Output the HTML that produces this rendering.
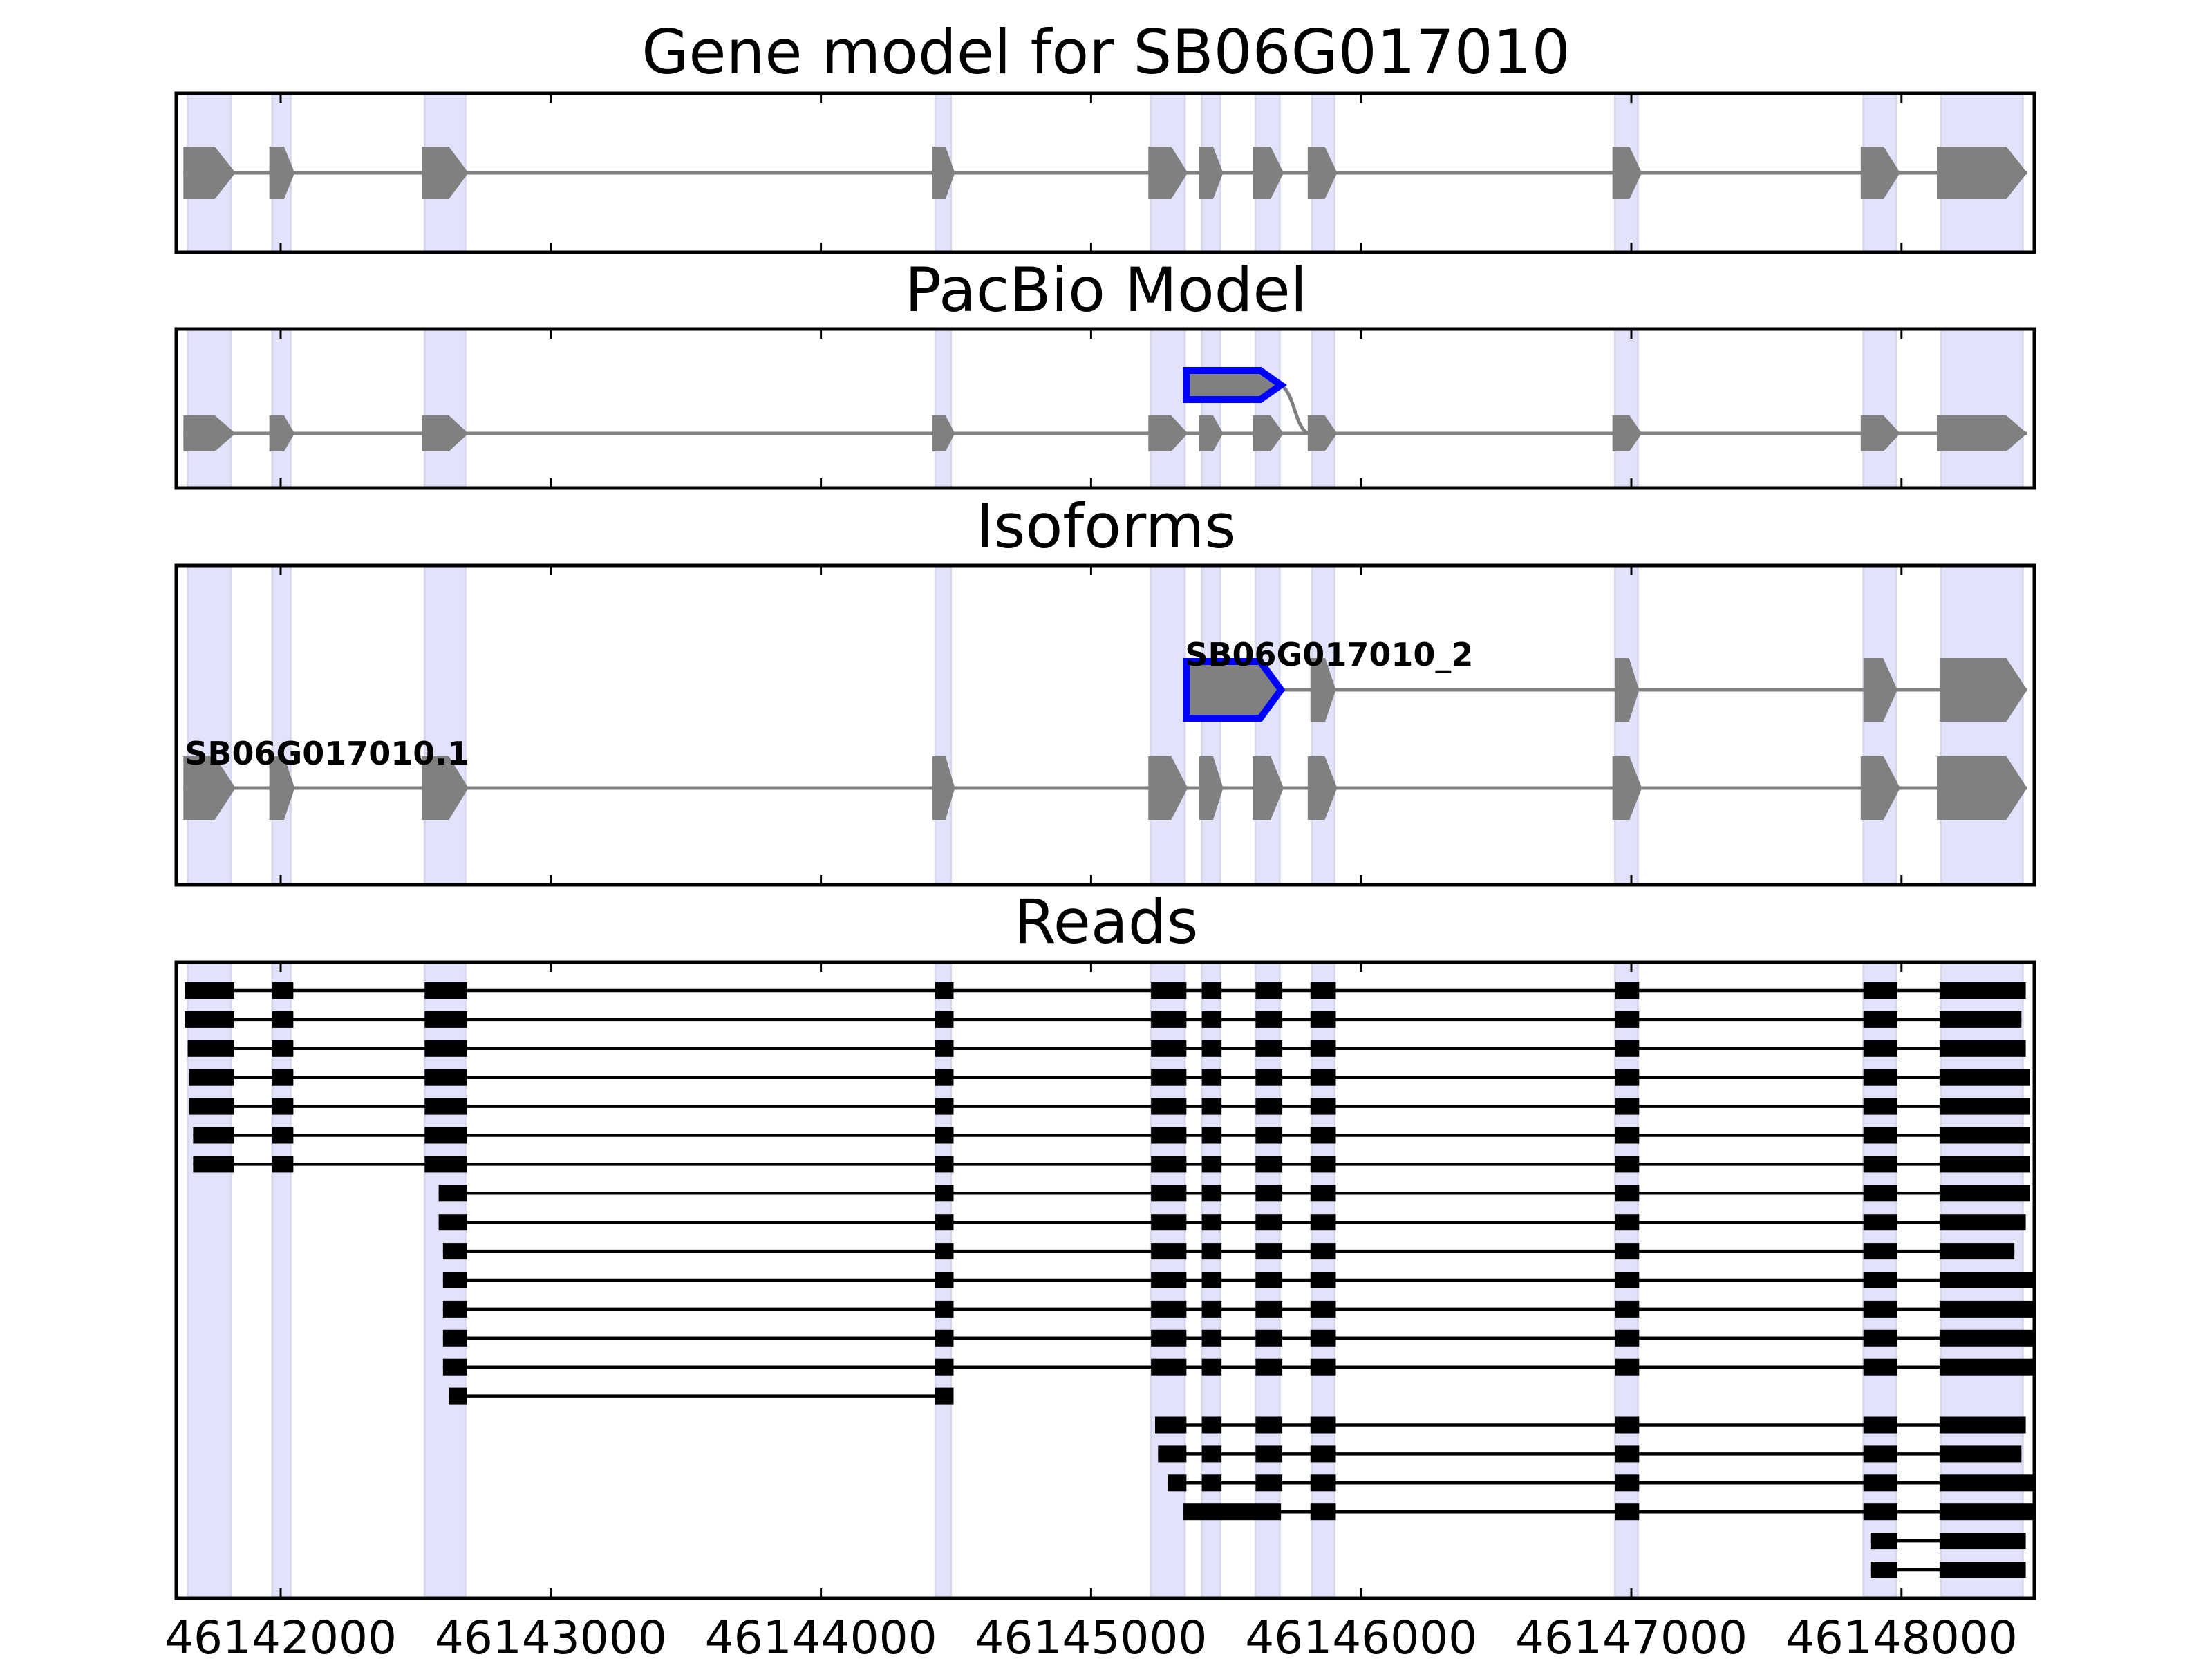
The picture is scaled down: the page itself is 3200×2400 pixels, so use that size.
<!DOCTYPE html>
<html><head><meta charset="utf-8">
<style>
html,body{margin:0;padding:0;background:#fff;}
svg{display:block;font-family:"DejaVu Sans","Liberation Sans",sans-serif;}
</style></head>
<body>
<svg id="chart" width="3200" height="2400" viewBox="0 0 3200 2400" xmlns="http://www.w3.org/2000/svg"></svg>
<script>
// ---- data (genomic coordinates) ----
const xTicks = [46142000,46143000,46144000,46145000,46146000,46147000,46148000];
const xTickLabels = ["46142000","46143000","46144000","46145000","46146000","46147000","46148000"];
const panelTitles = ["Gene model for SB06G017010","PacBio Model","Isoforms","Reads"];
const shadedStarts = [46141656,46141969,46142533,46144424,46145222,46145410,46145609,46145818,46146940,46147859,46148147];
const shadedEnds   = [46141817,46142037,46142684,46144481,46145347,46145478,46145698,46145901,46147024,46147979,46148449];
const geneExonStarts = [46141640,46141958,46142523,46144413,46145212,46145400,46145598,46145802,46146930,46147849,46148131];
const geneExonEnds   = [46141833,46142052,46142695,46144496,46145358,46145489,46145713,46145911,46147039,46147995,46148465];
const pacbioExonStart = 46145353;
const pacbioExonEnd = 46145703;
const iso2ExonStarts = [46145353,46145812,46146940,46147859,46148141];
const iso2ExonEnds   = [46145703,46145906,46147029,46147985,46148465];
const isoLabels = ["SB06G017010.1","SB06G017010_2"];
const readStarts = [
 [46141645,46141969,46142533,46144423,46145222,46145410,46145609,46145812,46146940,46147859,46148141],
 [46141645,46141969,46142533,46144423,46145222,46145410,46145609,46145812,46146940,46147859,46148141],
 [46141656,46141969,46142533,46144423,46145222,46145410,46145609,46145812,46146940,46147859,46148141],
 [46141661,46141969,46142533,46144423,46145222,46145410,46145609,46145812,46146940,46147859,46148141],
 [46141661,46141969,46142533,46144423,46145222,46145410,46145609,46145812,46146940,46147859,46148141],
 [46141676,46141969,46142533,46144423,46145222,46145410,46145609,46145812,46146940,46147859,46148141],
 [46141676,46141969,46142533,46144423,46145222,46145410,46145609,46145812,46146940,46147859,46148141],
 [46142585,46144423,46145222,46145410,46145609,46145812,46146940,46147859,46148141],
 [46142585,46144423,46145222,46145410,46145609,46145812,46146940,46147859,46148141],
 [46142601,46144423,46145222,46145410,46145609,46145812,46146940,46147859,46148141],
 [46142601,46144423,46145222,46145410,46145609,46145812,46146940,46147859,46148141],
 [46142601,46144423,46145222,46145410,46145609,46145812,46146940,46147859,46148141],
 [46142601,46144423,46145222,46145410,46145609,46145812,46146940,46147859,46148141],
 [46142601,46144423,46145222,46145410,46145609,46145812,46146940,46147859,46148141],
 [46142622,46144423],
 [46145237,46145410,46145609,46145812,46146940,46147859,46148141],
 [46145248,46145410,46145609,46145812,46146940,46147859,46148141],
 [46145284,46145410,46145609,46145812,46146940,46147859,46148141],
 [46145342,46145812,46146940,46147859,46148141],
 [46147885,46148141],
 [46147885,46148141]
];
const readEnds = [
 [46141828,46142047,46142690,46144491,46145353,46145483,46145708,46145906,46147029,46147985,46148460],
 [46141828,46142047,46142690,46144491,46145353,46145483,46145708,46145906,46147029,46147985,46148444],
 [46141828,46142047,46142690,46144491,46145353,46145483,46145708,46145906,46147029,46147985,46148460],
 [46141828,46142047,46142690,46144491,46145353,46145483,46145708,46145906,46147029,46147985,46148476],
 [46141828,46142047,46142690,46144491,46145353,46145483,46145708,46145906,46147029,46147985,46148476],
 [46141828,46142047,46142690,46144491,46145353,46145483,46145708,46145906,46147029,46147985,46148476],
 [46141828,46142047,46142690,46144491,46145353,46145483,46145708,46145906,46147029,46147985,46148476],
 [46142690,46144491,46145353,46145483,46145708,46145906,46147029,46147985,46148476],
 [46142690,46144491,46145353,46145483,46145708,46145906,46147029,46147985,46148460],
 [46142690,46144491,46145353,46145483,46145708,46145906,46147029,46147985,46148418],
 [46142690,46144491,46145353,46145483,46145708,46145906,46147029,46147985,46148496],
 [46142690,46144491,46145353,46145483,46145708,46145906,46147029,46147985,46148496],
 [46142690,46144491,46145353,46145483,46145708,46145906,46147029,46147985,46148496],
 [46142690,46144491,46145353,46145483,46145708,46145906,46147029,46147985,46148496],
 [46142690,46144491],
 [46145353,46145483,46145708,46145906,46147029,46147985,46148460],
 [46145353,46145483,46145708,46145906,46147029,46147985,46148444],
 [46145353,46145483,46145708,46145906,46147029,46147985,46148496],
 [46145703,46145906,46147029,46147985,46148496],
 [46147985,46148460],
 [46147985,46148460]
];

// ---- layout ----
const NS = "http://www.w3.org/2000/svg";
const svg = document.getElementById('chart');
const AX_L = 255, AX_R = 2943;
const X0 = 46142000, PX_PER_BP = 0.3908, XPIX0 = 406;
function xs(v){ return XPIX0 + (v - X0) * PX_PER_BP; }
const panels = [
  {top:135,bottom:365,titleY:106},
  {top:476,bottom:706,titleY:450},
  {top:818,bottom:1280,titleY:792},
  {top:1392,bottom:2312,titleY:1364}
];
const panelNames = ['gene-model-panel','pacbio-panel','isoforms-panel','reads-panel'];
function mk(tag, attrs, parent){
  const e = document.createElementNS(NS, tag);
  for (const k in attrs) e.setAttribute(k, attrs[k]);
  (parent||svg).appendChild(e);
  return e;
}
function exonPath(s, e, cy, h){
  const x1 = xs(s), x2 = xs(e);
  const w = x2 - x1;
  const tip = Math.min(30, w * 0.42);
  return `M${x1},${cy-h/2} L${x2-tip},${cy-h/2} L${x2},${cy} L${x2-tip},${cy+h/2} L${x1},${cy+h/2} Z`;
}
const defs = mk('defs', {});

panels.forEach((p, i) => {
  const g = mk('g', {});
  
  
  const cp = mk('clipPath', {id:'clip'+i}, defs);
  mk('rect', {x:AX_L, y:p.top, width:AX_R-AX_L, height:p.bottom-p.top}, cp);
  const inner = mk('g', {'clip-path':'url(#clip'+i+')'}, g);
  shadedStarts.forEach((s, j) => {
    const r = mk('rect', {x:xs(s), y:p.top, width:xs(shadedEnds[j])-xs(s), height:p.bottom-p.top, fill:'#e2e2fb', stroke:'#d8d8ec', 'stroke-width':3}, inner);
    
    
  });
  p.inner = inner; p.g = g;
  const t = mk('text', {x:1600, y:p.titleY, 'text-anchor':'middle', 'font-size':88, fill:'#000'}, g);
  t.textContent = panelTitles[i];
  
  
});

function drawModel(inner, starts, ends, cy, h){
  mk('line', {x1:xs(starts[0]), x2:xs(ends[ends.length-1]), y1:cy, y2:cy, stroke:'#808080', 'stroke-width':5}, inner);
  starts.forEach((s, j) => {
    const pth = mk('path', {d:exonPath(s, ends[j], cy, h), fill:'#808080'}, inner);
    
    
  });
}
drawModel(panels[0].inner, geneExonStarts, geneExonEnds, 250, 76);
drawModel(panels[1].inner, geneExonStarts, geneExonEnds, 627, 52);
{
  const inner = panels[1].inner;
  const tx = xs(pacbioExonEnd), nx = xs(geneExonStarts[7]);
  mk('path', {d:`M${tx},557 C${tx+20},570 ${tx+20},${627-10} ${nx},627`, fill:'none', stroke:'#808080', 'stroke-width':5}, inner);
  const b = mk('path', {d:exonPath(pacbioExonStart, pacbioExonEnd, 557, 42), fill:'#808080', stroke:'#0000ff', 'stroke-width':10}, inner);
  
  
}
{
  const inner = panels[2].inner;
  drawModel(inner, geneExonStarts, geneExonEnds, 1140, 92);
  drawModel(inner, iso2ExonStarts, iso2ExonEnds, 998, 92);
  const b = mk('path', {d:exonPath(iso2ExonStarts[0], iso2ExonEnds[0], 998, 82), fill:'#808080', stroke:'#0000ff', 'stroke-width':10}, inner);
  
  
  const l1 = mk('text', {x:xs(geneExonStarts[0])+2, y:1106, 'font-size':46, 'font-weight':'bold', fill:'#000'}, panels[2].g);
  l1.textContent = isoLabels[0];
  
  
  const l2 = mk('text', {x:xs(iso2ExonStarts[0])-2, y:963, 'font-size':46, 'font-weight':'bold', fill:'#000'}, panels[2].g);
  l2.textContent = isoLabels[1];
  
  
}
{
  const inner = panels[3].inner;
  const y0 = 1433, dy = 41.9;
  readStarts.forEach((st, r) => {
    const en = readEnds[r];
    const cy = y0 + r*dy;
    const g = mk('g', {}, inner);
    
    
    mk('line', {x1:xs(st[0]), x2:xs(en[en.length-1]), y1:cy, y2:cy, stroke:'#000', 'stroke-width':4.5}, g);
    st.forEach((s, j) => {
      mk('rect', {x:xs(s), y:cy-12, width:xs(en[j])-xs(s), height:24, fill:'#000'}, g);
    });
  });
}
panels.forEach((p, i) => {
  xTicks.forEach((v, j) => {
    mk('line', {x1:xs(v), x2:xs(v), y1:p.top, y2:p.top+14, stroke:'#000', 'stroke-width':3}, p.g);
    mk('line', {x1:xs(v), x2:xs(v), y1:p.bottom-14, y2:p.bottom, stroke:'#000', 'stroke-width':3}, p.g);
    if (i === 3){
      const t = mk('text', {x:xs(v), y:2392, 'text-anchor':'middle', 'font-size':66, fill:'#000'}, p.g);
      t.textContent = xTickLabels[j];
      
      
    }
  });
  const fr = mk('rect', {x:AX_L, y:p.top, width:AX_R-AX_L, height:p.bottom-p.top, fill:'none', stroke:'#000', 'stroke-width':5}, p.g);
  
  
});
</script>
</body></html>
